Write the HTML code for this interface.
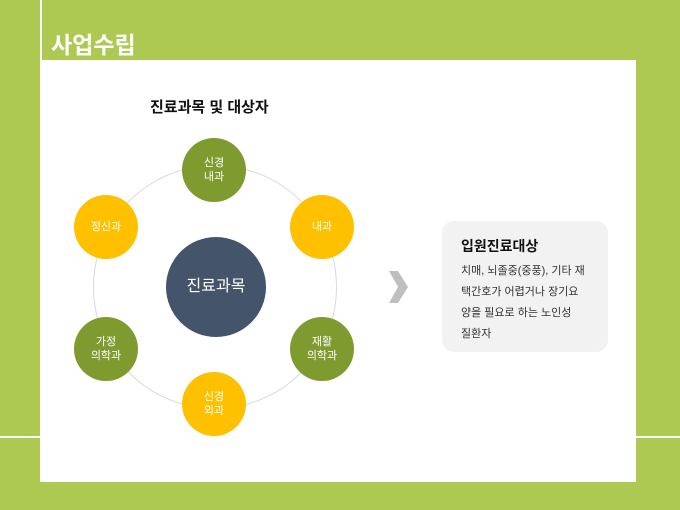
<!DOCTYPE html>
<html><head><meta charset="utf-8"><style>
body{margin:0;width:680px;height:510px;background:#adc952;position:relative;overflow:hidden;font-family:"Liberation Sans","Noto Sans CJK KR",sans-serif}
.a{position:absolute}
.c{position:absolute;border-radius:50%;color:#fff;display:flex;align-items:center;justify-content:center;text-align:center;font-size:11px;line-height:14px}
.g{background:#7f9a2f}.y{background:#ffc000}
</style></head><body>
<div class="a" style="left:40px;top:0;width:2px;height:60px;background:#fff"></div>
<div class="a" style="left:51px;top:26px;color:#fff;font-size:23px;font-weight:bold">사업수립</div>
<div class="a" style="left:40px;top:60px;width:596px;height:422px;background:#fff"></div>
<div class="a" style="left:0;top:436px;width:40px;height:2px;background:#fff"></div>
<div class="a" style="left:636px;top:436px;width:44px;height:2px;background:#fff"></div>
<div class="a" style="left:150px;top:96px;font-size:15px;font-weight:bold;color:#111">진료과목 및 대상자</div>
<div class="a" style="left:93px;top:165px;width:244px;height:244px;border:1px solid #d9d9d9;border-radius:50%;box-sizing:border-box"></div>
<div class="c" style="left:166px;top:237px;width:100px;height:100px;background:#44546a;font-size:16px">진료과목</div>
<div class="c g" style="left:182px;top:138px;width:64px;height:64px">신경<br>내과</div>
<div class="c y" style="left:290px;top:195px;width:64px;height:64px">내과</div>
<div class="c g" style="left:290px;top:317px;width:64px;height:64px">재활<br>의학과</div>
<div class="c y" style="left:182px;top:372px;width:64px;height:64px">신경<br>외과</div>
<div class="c g" style="left:74px;top:317px;width:64px;height:64px">가정<br>의학과</div>
<div class="c y" style="left:74px;top:195px;width:64px;height:64px">정신과</div>
<svg class="a" style="left:388px;top:270px" width="22" height="34"><polygon points="1,1 10,1 20,17 10,33 1,33 10,17" fill="#bfbfbf"/></svg>
<div class="a" style="left:442px;top:221px;width:166px;height:131px;background:#f2f2f2;border-radius:12px"></div>
<div class="a" style="left:461px;top:236px;font-size:14px;font-weight:bold;color:#111">입원진료대상</div>
<div class="a" style="left:461px;top:261px;width:145px;font-size:11px;line-height:21px;color:#333;white-space:nowrap">치매, 뇌졸중(중풍), 기타 재<br>택간호가 어렵거나 장기요<br>양을 필요로 하는 노인성<br>질환자</div>
</body></html>
